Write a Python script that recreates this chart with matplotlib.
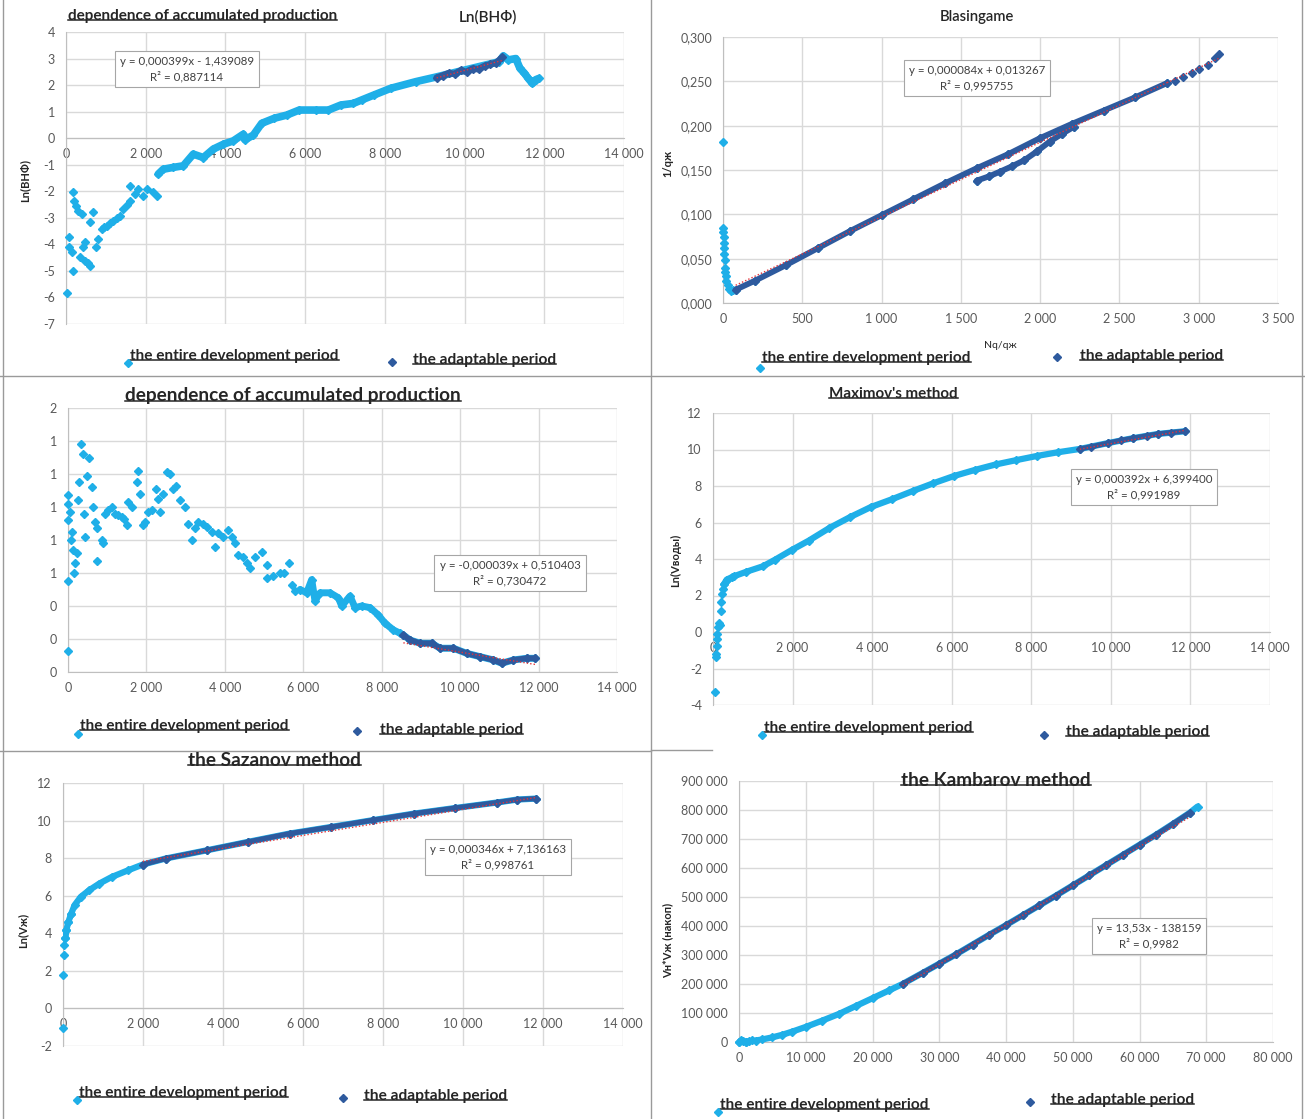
import matplotlib
matplotlib.use('Agg')
import matplotlib.pyplot as plt
from matplotlib.ticker import FuncFormatter, MultipleLocator
from matplotlib.lines import Line2D

W, H = 1305, 1119
LIGHT = '#1fafe8'
DARK = '#2e5a9e'
RED = '#e2343c'
GRID = '#d9d9d9'
TICK = '#595959'
INK = '#262626'

plt.rcParams['font.family'] = ['Lato', 'DejaVu Sans']

# ---------- panel 1: Ln(ВНФ) vs accumulated production ----------
p1_scatter_x = [33, 84, 84, 142, 168, 184, 200, 250, 310, 351, 393, 418, 477, 477, 540, 602, 602, 686,
                753, 811, 895, 960, 1020, 1100, 1187, 1270, 1355, 1438, 1520, 1606, 1606, 1731, 1815,
                1940, 2024, 2191, 2275]
p1_scatter_y = [-5.84, -3.73, -4.11, -4.30, -4.99, -2.04, -2.36, -2.55, -2.73, -4.49, -2.86, -4.11,
                -4.61, -3.92, -4.70, -4.80, -3.17, -2.77, -4.11, -3.80, -3.42, -3.35, -3.30, -3.20,
                -3.11, -3.00, -2.92, -2.67, -2.50, -2.36, -1.79, -2.11, -1.92, -2.17, -1.92, -2.04, -2.17]
p1_band_x = [2316, 2441, 2692, 2943, 3194, 3445, 3696, 3947, 4198, 4449, 4493, 4702, 4911, 5225, 5538,
             5851, 6270, 6583, 6897, 7210, 7419, 7732, 8150, 8777, 9300, 9822, 10345, 10867, 10972,
             11100, 11285, 11390, 11500, 11599, 11703, 11780, 11860]
p1_band_y = [-1.35, -1.17, -1.10, -1.04, -0.60, -0.73, -0.41, -0.23, -0.10, 0.15, -0.06, 0.12, 0.56,
             0.75, 0.87, 1.06, 1.06, 1.06, 1.25, 1.31, 1.44, 1.63, 1.88, 2.13, 2.31, 2.50, 2.69, 2.88,
             3.10, 2.95, 3.00, 2.63, 2.45, 2.25, 2.06, 2.20, 2.25]
p1_adapt_x = [9300, 9450, 9600, 9750, 9900, 10050, 10200, 10350, 10500, 10650, 10800, 10950]
p1_adapt_y = [2.28, 2.36, 2.45, 2.42, 2.55, 2.50, 2.62, 2.60, 2.72, 2.78, 2.85, 3.05]
p1_fit = (0.000399, -1.439089, 0.887114)

# ---------- panel 2: Blasingame ----------
p2_scatter_x = [0, 2, 3, 4, 5, 6, 8, 10, 12, 14, 18, 22, 30, 40, 50, 60]
p2_scatter_y = [0.182, 0.085, 0.080, 0.075, 0.068, 0.062, 0.055, 0.048, 0.040, 0.035, 0.030, 0.025,
                0.020, 0.016, 0.013, 0.015]
p2_adapt_x = [80, 200, 400, 600, 800, 1000, 1200, 1400, 1600, 1800, 2000, 2200, 2400, 2600, 2800]
p2_adapt_y = [0.015, 0.025, 0.043, 0.062, 0.081, 0.099, 0.117, 0.135, 0.152, 0.168, 0.186, 0.202,
              0.217, 0.232, 0.248]
p2_lower_x = [1600, 1680, 1745, 1820, 1900, 1980, 2060, 2140, 2215]
p2_lower_y = [0.138, 0.143, 0.148, 0.154, 0.161, 0.171, 0.182, 0.191, 0.199]
p2_sparse_x = [2850, 2900, 2960, 3000, 3060, 3100, 3130]
p2_sparse_y = [0.250, 0.255, 0.259, 0.264, 0.268, 0.276, 0.281]
p2_fit = (0.000084, 0.013267, 0.995755)

# ---------- panel 3: dependence of accumulated production ----------
p3_scatter_x = [0, 0, 8, 8, 51, 8, 94, 69, 135, 179, 153, 222, 263, 288, 324, 375, 408, 434, 477, 543,
                604, 645, 689, 747, 747, 859, 900, 944, 1028, 1114, 1199, 1283, 1369, 1428, 1497, 1538,
                1624, 1752, 1793, 1836, 1905, 1964, 2048, 2135, 2244, 2303, 2346, 2415, 2517, 2601,
                2686, 2754, 2856, 2984, 3068, 3155, 3239, 3323, 3451, 3537, 3665, 3749, 3833, 3961,
                4088, 4175, 4259, 4343, 4471, 4558, 4642, 4769, 4940, 5067, 5067, 5236, 5407, 5509,
                5644, 5705, 5789]
p3_scatter_y = [0.13, 0.55, 1.07, 1.02, 0.97, 0.92, 0.85, 0.80, 0.74, 0.66, 0.60, 0.72, 1.04, 1.15,
                1.38, 1.32, 0.96, 0.82, 1.19, 1.30, 1.12, 1.00, 0.91, 0.87, 0.67, 0.80, 0.78, 0.96,
                0.98, 1.00, 0.96, 0.95, 0.94, 0.93, 0.89, 1.03, 1.00, 1.15, 1.22, 1.08, 0.89, 0.91,
                0.97, 0.98, 1.11, 1.05, 0.97, 1.08, 1.21, 1.20, 1.11, 1.13, 1.04, 1.00, 0.90, 0.80,
                0.87, 0.91, 0.90, 0.88, 0.85, 0.76, 0.84, 0.82, 0.86, 0.82, 0.78, 0.71, 0.70, 0.66,
                0.63, 0.70, 0.73, 0.65, 0.57, 0.58, 0.60, 0.60, 0.66, 0.53, 0.49]
p3_band_x = [5917, 6087, 6215, 6299, 6427, 6682, 6894, 6980, 7192, 7320, 7490, 7702, 7915, 8085, 8297,
             8467, 8552, 8722, 8977, 9275, 9488, 9828, 10168, 10508, 10848, 11061, 11357, 11697, 11910]
p3_band_y = [0.50, 0.48, 0.56, 0.43, 0.48, 0.48, 0.45, 0.40, 0.46, 0.39, 0.40, 0.39, 0.345, 0.295,
             0.255, 0.235, 0.224, 0.194, 0.174, 0.174, 0.144, 0.144, 0.113, 0.093, 0.073, 0.053,
             0.073, 0.083, 0.083]
p3_adapt_x = [8552, 8722, 8977, 9275, 9488, 9828, 10168, 10508, 10848, 11061, 11357, 11697, 11910]
p3_adapt_y = [0.224, 0.194, 0.174, 0.174, 0.144, 0.144, 0.113, 0.093, 0.073, 0.053, 0.073, 0.083, 0.083]
p3_fit = (-0.000039, 0.510403, 0.730472)

# ---------- panel 4: Maximov's method ----------
p4_scatter_x = [50, 67, 75, 92, 100, 109, 134, 159, 170, 193, 193, 218, 243, 276, 344]
p4_scatter_y = [-3.27, -1.39, -1.20, -0.75, -0.38, -0.10, 0.26, 0.49, 0.40, 1.17, 1.63, 2.08, 2.36,
                2.63, 2.87]
p4_band_x = [276, 344, 470, 522, 836, 1254, 1567, 1985, 2403, 2926, 3448, 3971, 4493, 5016, 5538, 6061,
             6583, 7106, 7628, 8150, 8673, 9220, 9927, 10554, 11181, 11860]
p4_band_y = [2.63, 2.87, 3.00, 3.05, 3.30, 3.60, 3.97, 4.50, 5.00, 5.70, 6.30, 6.85, 7.27, 7.72, 8.15,
             8.55, 8.88, 9.18, 9.42, 9.65, 9.85, 10.03, 10.35, 10.62, 10.85, 11.00]
p4_adapt_x = [9220, 9500, 9927, 10250, 10554, 10900, 11181, 11500, 11860]
p4_adapt_y = [10.03, 10.15, 10.35, 10.50, 10.62, 10.75, 10.85, 10.93, 11.00]
p4_fit = (0.000392, 6.399400, 0.991989)

# ---------- panel 5: the Sazanov method ----------
p5_scatter_x = [0, 0, 31, 31, 62, 83, 135, 207]
p5_scatter_y = [-1.03, 1.77, 2.84, 3.37, 3.76, 4.17, 4.61, 5.05]
p5_band_x = [62, 83, 135, 207, 290, 445, 652, 911, 1221, 1635, 1997, 2566, 3601, 4636, 5671, 6705,
             7740, 8775, 9810, 10845, 11362, 11828]
p5_band_y = [3.76, 4.17, 4.61, 5.05, 5.50, 5.94, 6.29, 6.65, 7.00, 7.36, 7.66, 7.98, 8.42, 8.87, 9.31,
             9.66, 10.02, 10.37, 10.67, 10.96, 11.12, 11.17]
p5_adapt_x = [1997, 2566, 3601, 4636, 5671, 6705, 7740, 8775, 9810, 10845, 11362, 11828]
p5_adapt_y = [7.66, 7.98, 8.42, 8.87, 9.31, 9.66, 10.02, 10.37, 10.67, 10.96, 11.12, 11.17]
p5_fit = (0.000346, 7.136163, 0.998761)

# ---------- panel 6: the Kambarov method ----------
p6_scatter_x = [0, 300, 600, 1000, 1500, 2000]
p6_scatter_y = [0, 6000, 2000, 1000, 3000, 7000]
p6_band_x = [0, 1000, 2500, 3500, 5000, 6500, 8000, 10000, 12500, 15000, 17500, 20000, 22500, 24500,
             27500, 30000, 32500, 35000, 37500, 40000, 42500, 45000, 47500, 50000, 52500, 55000,
             57500, 60000, 62500, 65000, 67500, 68700]
p6_band_y = [0, 1000, 5000, 9000, 16000, 25000, 36000, 52000, 74000, 97000, 124000, 151000, 178000,
             200000, 238000, 270000, 302000, 336000, 370000, 403000, 437000, 471000, 505000, 540000,
             575000, 610000, 645000, 680000, 715000, 752000, 790000, 812000]
p6_adapt_x = [24500, 27500, 30000, 32500, 35000, 37500, 40000, 42500, 45000, 47500, 50000, 52500,
              55000, 57500, 60000, 62500, 65000, 67500]
p6_adapt_y = [200000, 238000, 270000, 302000, 336000, 370000, 403000, 437000, 471000, 505000, 540000,
              575000, 610000, 645000, 680000, 715000, 752000, 790000]
p6_fit = (13.53, -138159, 0.9982)

LEGEND_FULL = 'the entire development period'
LEGEND_ADAPT = 'the adaptable period'

fig = plt.figure(figsize=(W / 100, H / 100), dpi=100)
renderer = fig.canvas.get_renderer()


def fx(x):
    return x / W


def fy(y):
    return 1 - y / H


def add_ax(l, t, r, b):
    return fig.add_axes([fx(l), fy(b), (r - l) / W, (b - t) / H])


def thousands(v, pos):
    return f'{v:,.0f}'.replace(',', ' ')


def style_ax(ax, xlim, ylim, xstep, ystep, xfmt, yfmt):
    ax.set_xlim(*xlim)
    ax.set_ylim(*ylim)
    ax.xaxis.set_major_locator(MultipleLocator(xstep))
    ax.yaxis.set_major_locator(MultipleLocator(ystep))
    ax.xaxis.set_major_formatter(FuncFormatter(xfmt))
    ax.yaxis.set_major_formatter(FuncFormatter(yfmt))
    ax.grid(True, color=GRID, lw=1)
    ax.set_axisbelow(True)
    ax.spines['top'].set_visible(False)
    ax.spines['right'].set_visible(False)
    ax.spines['left'].set_color('#bfbfbf')
    ax.spines['bottom'].set_color('#bfbfbf')
    ax.spines['bottom'].set_position(('data', max(0, ylim[0])))
    ax.tick_params(length=0, labelsize=9, colors=TICK)
    ax.tick_params(axis='x', pad=7)
    ax.tick_params(axis='y', pad=8)
    ax.patch.set_alpha(0)


def draw_series(ax, sx, sy, bx, by, adx, ady, fit, lw=4.5):
    ax.plot(bx, by, color=LIGHT, lw=lw, solid_joinstyle='round', solid_capstyle='round', zorder=3)
    ax.plot(sx + bx, sy + by, ls='none', marker='D', ms=4.2, color=LIGHT, zorder=3, clip_on=False)
    ax.plot(adx, ady, color=DARK, lw=lw - 0.8, solid_joinstyle='round', solid_capstyle='round', zorder=4)
    ax.plot(adx, ady, ls='none', marker='D', ms=3.8, color=DARK, zorder=4)
    a, b, _ = fit
    x0, x1 = min(adx), max(adx)
    ax.plot([x0, x1], [a * x0 + b, a * x1 + b], color=RED, lw=1, ls=(0, (1, 1.5)), zorder=5)


def num(v, digits):
    return f'{abs(v):.{digits}f}'.replace('.', ',')


def eq_box(cx, cy, fit, a_digits=6, b_digits=6, r_digits=6):
    a, b, r2 = fit
    sign = '+' if b >= 0 else '-'
    a_txt = ('-' if a < 0 else '') + num(a, a_digits)
    txt = f'y = {a_txt}x {sign} {num(b, b_digits)}\nR² = {num(r2, r_digits)}'
    fig.text(fx(cx), fy(cy), txt, ha='center', va='center', fontsize=8.3, color='#404040',
             linespacing=1.35,
             bbox=dict(boxstyle='square,pad=0.45', fc='white', ec='#a6a6a6', lw=0.8))


def fit_width(t, width):
    w = t.get_window_extent(renderer).width
    t.set_fontsize(t.get_fontsize() * width / w)


def underline(t):
    bb = t.get_window_extent(renderer)
    y = bb.y0 + 0.2 * bb.height
    fig.add_artist(Line2D([fx(bb.x0), fx(bb.x1)], [y / H, y / H], transform=fig.transFigure,
                          color=INK, lw=1.1))


def title(x, y, text, width, under=True, weight='bold'):
    t = fig.text(fx(x), fy(y), text, ha='left', va='center', fontsize=10, weight=weight, color=INK)
    fit_width(t, width)
    if under:
        underline(t)
    return t


def legend(x_full, y_full, mx_full, my_full, x_ad, y_ad, mx_ad, my_ad):
    title(x_full, y_full, LEGEND_FULL, 209)
    title(x_ad, y_ad, LEGEND_ADAPT, 143)
    fig.add_artist(Line2D([fx(mx_full)], [fy(my_full)], transform=fig.transFigure, ls='none',
                          marker='D', ms=4, color=LIGHT))
    fig.add_artist(Line2D([fx(mx_ad)], [fy(my_ad)], transform=fig.transFigure, ls='none',
                          marker='D', ms=4, color=DARK))


def ylabel(x, y, text, size=8):
    fig.text(fx(x), fy(y), text, rotation=90, ha='center', va='center', fontsize=size,
             weight='bold', color=INK)


# panel 1
ax1 = add_ax(66, 32, 624, 324)
style_ax(ax1, (0, 14000), (-7, 4), 2000, 1, thousands, lambda v, p: f'{v:.0f}')
draw_series(ax1, p1_scatter_x, p1_scatter_y, p1_band_x, p1_band_y, p1_adapt_x, p1_adapt_y, p1_fit, lw=5.5)
title(68, 16, 'dependence of accumulated production', 272)
title(459, 17, 'Ln(ВНФ)', 58, under=False, weight='semibold')
eq_box(187, 69, p1_fit)
ylabel(25, 180, 'Ln(ВНФ)')
legend(130, 356, 128, 363, 413, 360, 392, 362)

# panel 2
ax2 = add_ax(723, 37, 1278, 303)
style_ax(ax2, (0, 3500), (0, 0.3), 500, 0.05, thousands, lambda v, p: f'{v:.3f}'.replace('.', ','))
ax2.plot(p2_adapt_x + p2_lower_x, p2_adapt_y + p2_lower_y, ls='none', marker='D', ms=4.2,
         color=LIGHT, zorder=3)
draw_series(ax2, p2_scatter_x, p2_scatter_y, [], [], p2_adapt_x, p2_adapt_y, p2_fit, lw=5)
ax2.plot(p2_lower_x, p2_lower_y, color=DARK, lw=4.2, solid_capstyle='round', zorder=4)
ax2.plot(p2_lower_x, p2_lower_y, ls='none', marker='D', ms=3.8, color=DARK, zorder=4)
ax2.plot(p2_sparse_x, p2_sparse_y, ls='none', marker='D', ms=3.8, color=DARK, zorder=4)
a2, b2, _ = p2_fit
ax2.plot([2800, 3130], [a2 * 2800 + b2, a2 * 3130 + b2], color=RED, lw=1, ls=(0, (1, 1.5)), zorder=5)
title(940, 17, 'Blasingame', 75, under=False, weight='semibold')
eq_box(977, 78, p2_fit)
ylabel(668, 163, '1/qж')
fig.text(fx(1000), fy(345), 'Nq/qж', ha='center', va='center', fontsize=7.5, color=INK)
legend(762, 358, 760, 368, 1080, 356, 1057, 357)

# panel 3
ax3 = add_ax(68, 408, 617, 672)
style_ax(ax3, (0, 14000), (0, 1.6), 2000, 0.2, thousands, lambda v, p: f'{v:.0f}')
draw_series(ax3, p3_scatter_x, p3_scatter_y, p3_band_x, p3_band_y, p3_adapt_x, p3_adapt_y, p3_fit, lw=5)
title(125, 396, 'dependence of accumulated production', 338)
eq_box(510, 573, p3_fit)
legend(80, 726, 78, 734, 380, 730, 357, 731)

# panel 4
ax4 = add_ax(713, 413, 1270, 705)
style_ax(ax4, (0, 14000), (-4, 12), 2000, 2, thousands, lambda v, p: f'{v:.0f}')
draw_series(ax4, p4_scatter_x, p4_scatter_y, p4_band_x, p4_band_y, p4_adapt_x, p4_adapt_y, p4_fit)
title(829, 394, "Maximov's method", 129)
eq_box(1144, 487, p4_fit)
ylabel(676, 560, 'Ln(Vводы)')
legend(764, 728, 762, 735, 1066, 732, 1044, 735)

# panel 5
ax5 = add_ax(63, 783, 623, 1046)
style_ax(ax5, (0, 14000), (-2, 12), 2000, 2, thousands, lambda v, p: f'{v:.0f}')
draw_series(ax5, p5_scatter_x, p5_scatter_y, p5_band_x, p5_band_y, p5_adapt_x, p5_adapt_y, p5_fit)
title(188, 760, 'the Sazanov method', 173)
eq_box(498, 857, p5_fit)
ylabel(23, 930, 'Ln(Vж)')
legend(79, 1093, 77, 1100, 364, 1096, 343, 1098)

# panel 6
ax6 = add_ax(739, 781, 1273, 1042)
style_ax(ax6, (0, 80000), (0, 900000), 10000, 100000, thousands, thousands)
draw_series(ax6, p6_scatter_x, p6_scatter_y, p6_band_x, p6_band_y, p6_adapt_x, p6_adapt_y, p6_fit)
title(901, 780, 'the Kambarov method', 190)
eq_box(1149, 936, p6_fit, a_digits=2, b_digits=0, r_digits=4)
ylabel(668, 940, 'Vн*Vж (накоп)')
legend(720, 1105, 718, 1112, 1051, 1100, 1030, 1102)

# panel separators
for xs, ys in [([651, 651], [0, H]), ([0, W], [376, 376]), ([0, 651], [751, 751]),
               ([651, 712], [750, 750]), ([3, 3], [0, H]), ([1302, 1302], [0, H])]:
    fig.add_artist(Line2D([fx(v) for v in xs], [fy(v) for v in ys], transform=fig.transFigure,
                          color='#9a9a9a', lw=1))

fig.savefig('out.png', dpi=100, facecolor='white')
